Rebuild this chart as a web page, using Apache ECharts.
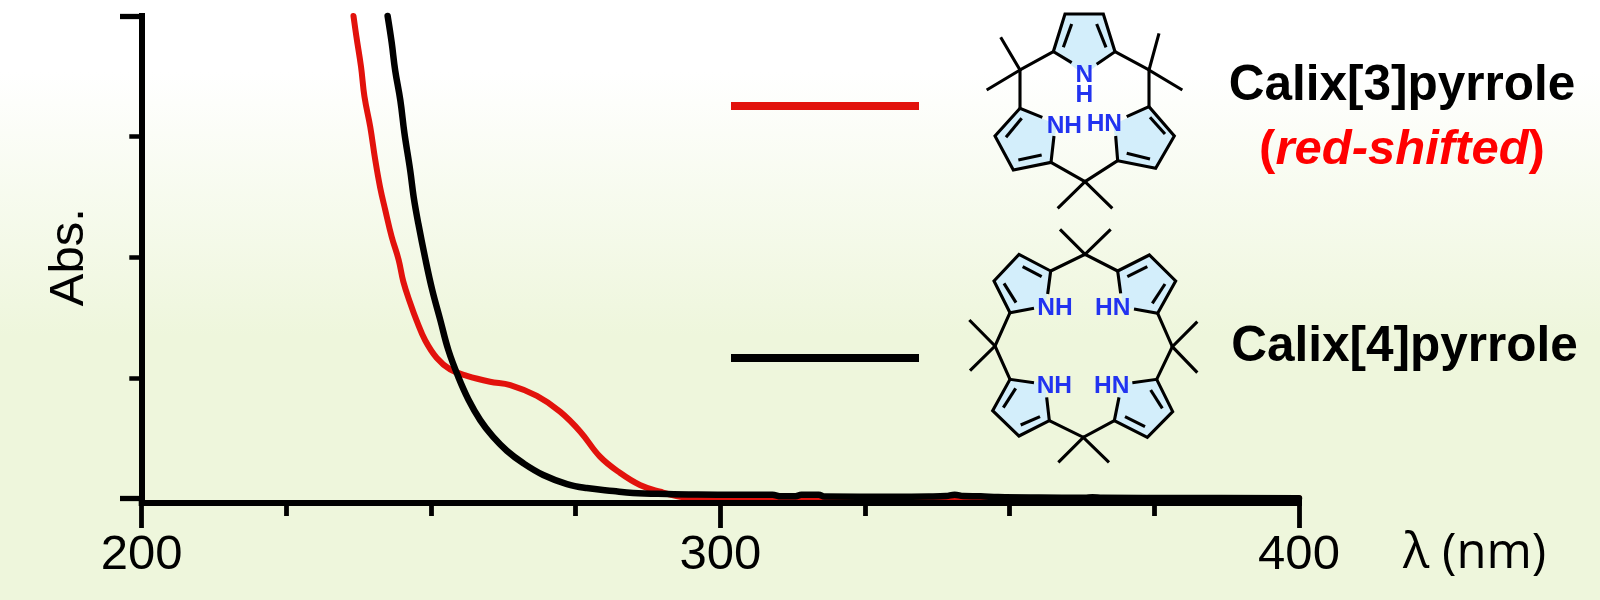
<!DOCTYPE html>
<html><head><meta charset="utf-8">
<style>html,body{margin:0;padding:0;background:#fff}#c{width:1600px;height:600px}</style>
<script src="https://cdn.jsdelivr.net/npm/echarts@6/dist/echarts.min.js"></script>
</head><body><div id="c"></div>
<script>
const wavelengthCalix3 = [236.6,237.1,237.9,238.5,239.5,240.35,241.2,242.1,243.2,244.4,245.2,246.4,247.55,249.0,251.0,253.3,256.2,260.2,263.7,268.3,272.3,275.8,279.2,282.7,286.1,289.6,293.05,296.5,320,360,400];
const absCalix3 = [4.0,3.83,3.58,3.33,3.08,2.81,2.58,2.39,2.17,1.98,1.80,1.62,1.47,1.31,1.165,1.07,1.016,0.968,0.94,0.85,0.72,0.554,0.347,0.211,0.112,0.056,0.015,0.002,0.002,0.003,0.003];
const wavelengthCalix4 = [242.5,243.2,243.8,244.7,245.4,246.4,247.0,247.8,249.0,250.2,251.6,253.0,254.7,256.5,258.5,260.7,263.1,265.9,269.4,273.5,276.9,281.5,284.9,290.8,296,303,309,310.5,313,314,317,318,330,336,339,340.5,342,345,348,355,363,364.3,366,380,400];
const absCalix4 = [4.0,3.78,3.55,3.30,3.03,2.72,2.50,2.28,1.99,1.73,1.48,1.23,1.01,0.817,0.65,0.512,0.396,0.294,0.195,0.12,0.087,0.062,0.046,0.037,0.033,0.031,0.031,0.018,0.018,0.031,0.031,0.016,0.014,0.016,0.02,0.032,0.02,0.018,0.012,0.008,0.006,0.011,0.006,0.004,0.002];
const seriesNames = ['Calix[3]pyrrole','Calix[4]pyrrole'];
const xAxisName = 'λ (nm)';
const xMin = 200, xMax = 400, xStep = 100;
const yMin = 0, yMax = 4;
const RED = '#E2120C', FONT = '"Liberation Sans",Arial,sans-serif';

const zip = (a,b)=>a.map((v,i)=>[v,b[i]]);
const chart = echarts.init(document.getElementById('c'),null,{renderer:'canvas'});

/* structural formula drawing helpers: coordinates are in 3x crop space of each molecule */
const BOND='#000', RING='#D3EEFB', NCOL='#2233F0';
function molecule(ox,oy,rings,bonds,labels){
  const m=p=>[ox+p[0]/3,oy+p[1]/3], out=[];
  rings.forEach(r=>out.push({type:'polygon',silent:true,z:3,shape:{points:r.map(m)},style:{fill:RING,stroke:null}}));
  bonds.forEach(b=>out.push({type:'polyline',silent:true,z:4,shape:{points:b.map(m)},style:{fill:null,stroke:BOND,lineWidth:3.1,lineCap:'butt',lineJoin:'miter'}}));
  labels.forEach(l=>{const p=m([l[1],l[2]]);out.push({type:'text',silent:true,z:5,x:p[0],y:p[1],style:{text:l[0],fill:NCOL,font:'bold 24.5px '+FONT,align:'center',verticalAlign:'middle'}})});
  return out;
}
const mol3 = molecule(930,10,
 [[[370,125],[405,12],[520,12],[555,125],[463,195]],
  [[270,295],[195,378],[250,480],[363,457],[380,345]],
  [[657,290],[733,378],[677,475],[563,452],[550,345]]],
 [[[425,158],[370,125],[405,12],[520,12],[555,125],[500,163]],
  [[425,42],[400,112]],[[500,42],[528,112]],
  [[370,125],[270,180],[270,295]],[[212,82],[270,180],[170,240]],
  [[555,125],[657,180],[657,290]],[[687,70],[657,180],[757,240]],
  [[337,322],[270,295],[195,378],[250,480],[363,457],[372,378]],
  [[275,325],[228,382]],[[265,450],[335,435]],
  [[590,320],[657,290],[733,378],[677,475],[563,452],[557,378]],
  [[660,322],[705,372]],[[590,430],[660,447]],
  [[363,457],[465,515],[563,452]],[[383,595],[465,515],[547,595]]],
 [['N',463,197],['H',463,256],['NH',403,350],['HN',523,344]]);
const mol4 = molecule(930,220,
 [[[362,153],[267,103],[192,183],[240,278],[345,262]],
  [[563,153],[658,105],[737,183],[683,280],[580,262]],
  [[240,478],[188,572],[267,648],[358,602],[345,490]],
  [[680,478],[728,575],[652,652],[553,602],[570,490]]],
 [[[362,153],[465,103],[563,153]],[[390,28],[465,103],[542,28]],
  [[353,222],[362,153],[267,103],[192,183],[240,278],[312,265]],
  [[278,140],[335,170]],[[222,190],[258,248]],
  [[572,220],[563,153],[658,105],[737,183],[683,280],[612,267]],
  [[592,170],[652,140]],[[705,192],[667,250]],
  [[240,278],[195,378],[240,478]],[[118,300],[195,378],[120,452]],
  [[683,280],[727,380],[680,478]],[[802,305],[727,380],[802,458]],
  [[312,488],[240,478],[188,572],[267,648],[358,602],[350,532]],
  [[257,505],[220,563]],[[272,615],[330,590]],
  [[607,488],[680,478],[728,575],[652,652],[553,602],[567,532]],
  [[662,510],[697,565]],[[585,590],[645,620]],
  [[358,602],[460,652],[553,602]],[[385,727],[460,652],[537,727]]],
 [['NH',375,264],['HN',548,264],['NH',373,498],['HN',545,498]]);

const legendText = [
 {type:'rect',silent:true,z:3,shape:{x:731,y:102,width:188,height:8},style:{fill:RED}},
 {type:'rect',silent:true,z:3,shape:{x:731,y:354,width:188,height:8},style:{fill:'#000'}},
 {type:'text',silent:true,z:5,x:1402,y:86,style:{text:seriesNames[0],fill:'#000',font:'bold 49.5px '+FONT,align:'center',verticalAlign:'middle'}},
 {type:'text',silent:true,z:5,x:1404.5,y:347,style:{text:seriesNames[1],fill:'#000',font:'bold 49.5px '+FONT,align:'center',verticalAlign:'middle'}},
 {type:'text',silent:true,z:5,x:1402,y:150,style:{
   text:'{a|(}{b|red-shifted}{a|)}',align:'center',verticalAlign:'middle',
   rich:{a:{fill:'#FF0000',font:'bold 49px '+FONT},b:{fill:'#FF0000',font:'italic bold 49px '+FONT}}}},
 {type:'text',silent:true,z:5,x:1403,y:554,style:{text:xAxisName,fill:'#000',font:'49px "Open Sans",'+FONT,align:'left',verticalAlign:'middle'}}
];

chart.setOption({
  animation:false,
  backgroundColor:new echarts.graphic.LinearGradient(0,0,0,1,[
    {offset:0,color:'#FFFFFF'},{offset:0.12,color:'#FFFFFF'},{offset:0.56,color:'#EEF6DC'},{offset:1,color:'#EEF6DC'}]),
  textStyle:{fontFamily:FONT},
  grid:{left:141.7,right:301,top:16,bottom:101.5,containLabel:false},
  xAxis:{type:'value',min:xMin,max:xMax,interval:xStep,offset:4.5,z:6,
    axisLine:{show:true,onZero:false,lineStyle:{color:'#000',width:6,cap:'square'}},
    axisTick:{show:true,length:25,lineStyle:{color:'#000',width:4.8}},
    minorTick:{show:true,splitNumber:4,length:13,lineStyle:{color:'#000',width:4.8}},
    splitLine:{show:false},minorSplitLine:{show:false},
    axisLabel:{show:true,color:'#000',fontSize:49,fontFamily:FONT,margin:28}},
  yAxis:{type:'value',min:yMin,max:yMax,interval:yMax,z:6,
    axisLine:{show:true,onZero:false,lineStyle:{color:'#000',width:6,cap:'square'}},
    axisTick:{show:true,length:21.7,lineStyle:{color:'#000',width:5.3}},
    minorTick:{show:true,splitNumber:4,length:12.4,lineStyle:{color:'#000',width:4.5}},
    splitLine:{show:false},minorSplitLine:{show:false},axisLabel:{show:false},
    name:'Abs.',nameLocation:'middle',nameGap:48,
    nameTextStyle:{color:'#000',fontSize:49,fontFamily:FONT}},
  series:[
    {name:seriesNames[0],type:'line',data:zip(wavelengthCalix3,absCalix3),showSymbol:false,smooth:0.4,clip:false,z:2,
      lineStyle:{color:RED,width:6,cap:'round',join:'round'}},
    {name:seriesNames[1],type:'line',data:zip(wavelengthCalix4,absCalix4),showSymbol:false,smooth:0.4,clip:false,z:3,
      lineStyle:{color:'#000',width:6.5,cap:'round',join:'round'}}
  ],
  graphic:{elements:[...legendText,...mol3,...mol4]}
});
</script></body></html>
